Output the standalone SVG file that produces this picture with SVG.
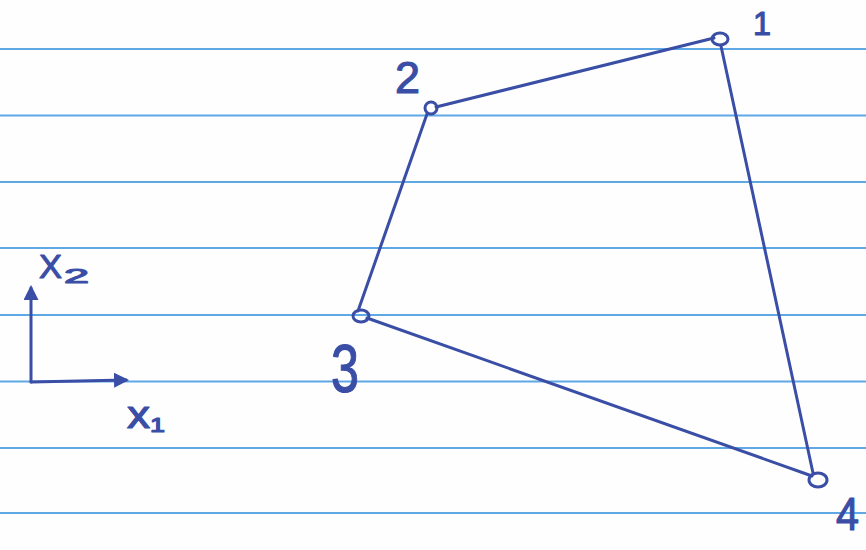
<svg xmlns="http://www.w3.org/2000/svg" width="866" height="550" viewBox="0 0 866 550">
<style>
.rule{stroke:#5ea8e6;stroke-width:2}
.ink{stroke:#3a4ea6;stroke-width:3;fill:none;stroke-linecap:round;stroke-linejoin:round}
.node{stroke:#3a4ea6;stroke-width:3;fill:none}
.lbl{font-family:"Liberation Sans",Arial,sans-serif;fill:#3a4ea6;stroke:#3a4ea6;stroke-width:1.2;stroke-linejoin:round}
</style>
<defs>
<marker id="ah" viewBox="0 0 10 10" refX="8" refY="5" markerWidth="5" markerHeight="5" orient="auto">
<path d="M0,0 L10,5 L0,10 Z" fill="#3a4ea6"/>
</marker>
</defs>
<rect width="866" height="550" fill="#fefefe"/>
<g id="paper">
<line class="rule" x1="0" y1="49" x2="866" y2="49"/>
<line class="rule" x1="0" y1="115.5" x2="866" y2="115.5"/>
<line class="rule" x1="0" y1="182" x2="866" y2="182"/>
<line class="rule" x1="0" y1="248" x2="866" y2="248"/>
<line class="rule" x1="0" y1="315" x2="866" y2="315"/>
<line class="rule" x1="0" y1="381.5" x2="866" y2="381.5"/>
<line class="rule" x1="0" y1="448" x2="866" y2="448"/>
<line class="rule" x1="0" y1="513" x2="866" y2="513"/>
</g>
<g id="connectors">
<line class="ink" x1="714" y1="38" x2="436" y2="107"/>
<line class="ink" x1="427" y1="114" x2="358" y2="311"/>
<line class="ink" x1="367" y1="318" x2="812" y2="476"/>
<line class="ink" x1="721" y1="46" x2="813" y2="473"/>
</g>
<g id="axes">
<line class="ink" x1="31" y1="382" x2="31" y2="288" marker-end="url(#ah)"/>
<line class="ink" x1="31" y1="382" x2="126" y2="380" marker-end="url(#ah)"/>
<text class="lbl" x="39" y="278" font-size="34" textLength="23" lengthAdjust="spacingAndGlyphs">X</text>
<text class="lbl" x="64" y="283" font-size="21" textLength="25" lengthAdjust="spacingAndGlyphs">2</text>
<text class="lbl" x="127" y="428" font-size="38" textLength="23" lengthAdjust="spacingAndGlyphs">x</text>
<text class="lbl" x="150" y="432" font-size="20" textLength="15" lengthAdjust="spacingAndGlyphs">1</text>
</g>
<g id="node1">
<ellipse class="node" cx="720" cy="39" rx="8" ry="6"/>
<text class="lbl" x="753" y="35" font-size="33" textLength="18" lengthAdjust="spacingAndGlyphs">1</text>
</g>
<g id="node2">
<ellipse class="node" cx="431" cy="108" rx="6" ry="6"/>
<text class="lbl" x="395" y="93" font-size="45" textLength="25" lengthAdjust="spacingAndGlyphs">2</text>
</g>
<g id="node3">
<ellipse class="node" cx="361" cy="316" rx="8" ry="6"/>
<text class="lbl" x="331" y="392" font-size="68" textLength="28" lengthAdjust="spacingAndGlyphs">3</text>
</g>
<g id="node4">
<ellipse class="node" cx="818" cy="480" rx="9" ry="7"/>
<text class="lbl" x="836" y="530" font-size="46" textLength="23" lengthAdjust="spacingAndGlyphs">4</text>
</g>
</svg>
